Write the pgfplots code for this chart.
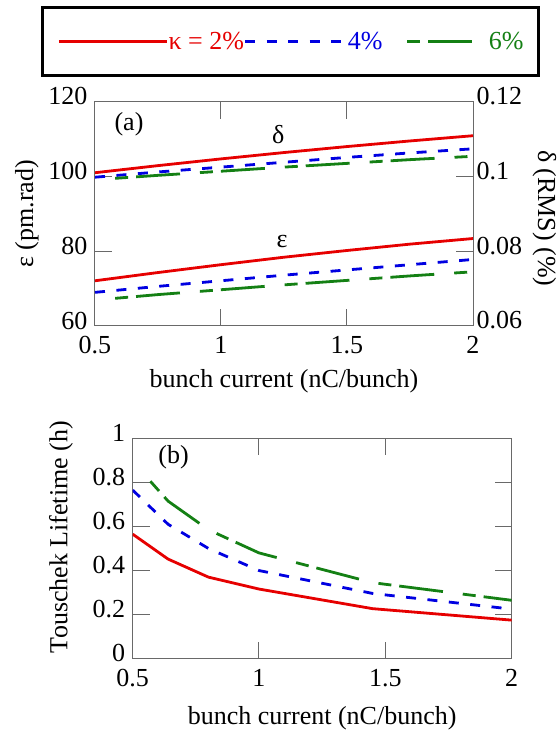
\documentclass[border=0pt]{standalone}
\usepackage{fontspec}
\setmainfont{Liberation Serif}
\usepackage{pgfplots}
\pgfplotsset{compat=1.18}

\definecolor{cred}{RGB}{230,0,0}
\definecolor{cblue}{RGB}{0,0,225}
\definecolor{cgreen}{RGB}{20,128,20}
\definecolor{frame}{RGB}{105,105,105}
\newcommand\bigfont{\fontsize{26}{31}\selectfont}

\tikzset{
  k2/.style={cred, line width=2.8pt},
  k4/.style={cblue, line width=2.8pt, dash pattern=on 10pt off 11.5pt},
  k6/.style={cgreen, line width=2.8pt, dash pattern=on 13pt off 8pt on 44pt off 20pt},
}
\pgfplotsset{
  panel/.style={
    scale only axis, width=378pt,
    xmin=0.5, xmax=2, xtick={0.5,1,1.5,2},
    major tick length=17pt,
    axis line style={frame, line width=1pt},
    major tick style={frame, line width=1pt},
    tick label style={font=\bigfont},
    label style={font=\bigfont},
    xticklabel style={yshift=-7pt},
    scaled ticks=false,
    /pgf/number format/assume math mode=true,
  },
}

\begin{document}
\begin{tikzpicture}[font=\bigfont]
\useasboundingbox (0,0) rectangle (558pt,732pt);

% (a) emittance, left scale
\begin{axis}[panel, at={(95pt,406pt)}, anchor=south west, height=224.3pt,
  ymin=60, ymax=120, ytick={60,80,100,120},
  yticklabel style={xshift=-4pt, yshift=5.5pt},
  xlabel={bunch current (nC/bunch)},
  xlabel style={at={(axis description cs:0.5,-0.272)}, anchor=base},
  ylabel={ε (pm.rad)},
  ylabel style={at={(axis description cs:-0.18,0.5)}, anchor=center},
  legend style={at={(axis description cs:0.517,1.425)}, anchor=north,
    draw=black, line width=2.5pt, inner xsep=15pt, inner ysep=24.6pt,
    font=\bigfont, legend columns=3, cells={anchor=west},
    nodes={inner sep=0pt}, column sep=0pt},
]
\addplot[k2, legend image code/.code={\path (-5.5pt,0pt) -- (103pt,0pt); \draw[k2] (0pt,0pt) -- (92pt,0pt);}]
  coordinates {(0.5,72.1) (0.75,74.3) (1,76.4) (1.25,78.4) (1.5,80.2) (1.75,81.9) (2,83.4)};
\addplot[k4, legend image code/.code={\path (0pt,0pt) -- (101pt,0pt); \draw[k4] (0pt,0pt) -- (92pt,0pt);}]
  coordinates {(0.5,69.0) (0.75,70.6) (1,72.1) (1.25,73.6) (1.5,75.0) (1.75,76.4) (2,77.8)};
\addplot[k6, legend image code/.code={\path (0pt,0pt) -- (80pt,0pt); \draw[k6] (0pt,0pt) -- (66pt,0pt);}]
  coordinates {(0.58,67.4) (0.75,68.4) (1,69.7) (1.25,71.0) (1.5,72.2) (1.75,73.4) (2,74.5)};
\legend{\textcolor{cred}{κ = 2\%}, \textcolor{cblue}{4\%\hspace{23.5pt}}, \textcolor{cgreen}{6\%}}
\node at (axis cs:0.635,114.1) {(a)};
\node at (axis cs:1.227,111.3) {δ};
\node at (axis cs:1.242,82.55) {ε};
\end{axis}

% (a) energy spread, right scale
\begin{axis}[panel, at={(95pt,406pt)}, anchor=south west, height=224.3pt,
  ymin=0.06, ymax=0.12, ytick={0.06,0.08,0.1,0.12},
  axis y line*=right, axis x line=none,
  yticklabel style={yshift=5.5pt, /pgf/number format/fixed, /pgf/number format/precision=2},
  ylabel={δ (RMS) (\%)},
  ylabel style={at={(axis description cs:1.189,0.48)}, anchor=center, rotate=180},
]
\addplot[k2] coordinates {(0.5,0.1010) (0.75,0.1029) (1,0.1047) (1.25,0.1064) (1.5,0.1080) (1.75,0.1095) (2,0.1109)};
\addplot[k4] coordinates {(0.5,0.0998) (0.75,0.1012) (1,0.1025) (1.25,0.1038) (1.5,0.1051) (1.75,0.1063) (2,0.1074)};
\addplot[k6] coordinates {(0.58,0.0995) (0.75,0.1003) (1,0.1014) (1.25,0.1025) (1.5,0.1035) (1.75,0.1045) (2,0.1054)};
\end{axis}

% (b) Touschek lifetime
\begin{axis}[panel, at={(132.7pt,73.3pt)}, anchor=south west, width=378.9pt, height=220.4pt,
  ymin=0, ymax=1, ytick={0,0.2,0.4,0.6,0.8,1},
  yticklabel style={xshift=-4pt, yshift=5.5pt},
  xlabel={bunch current (nC/bunch)},
  xlabel style={at={(axis description cs:0.5,-0.2985)}, anchor=base},
  ylabel={Touschek Lifetime (h)},
  ylabel style={at={(axis description cs:-0.189,0.552)}, anchor=center},
]
\addplot[k2] coordinates {(0.5,0.565) (0.64,0.452) (0.8,0.37) (1,0.316) (1.45,0.227) (2,0.175)};
\addplot[k4] coordinates {(0.5,0.765) (0.64,0.61) (0.8,0.5) (1,0.4) (1.45,0.296) (2,0.225)};
\addplot[k6] coordinates {(0.57,0.805) (0.64,0.715) (0.8,0.585) (1,0.48) (1.45,0.345) (2,0.265)};
\node at (axis cs:0.662,0.913) {(b)};
\end{axis}
\end{tikzpicture}
\end{document}
